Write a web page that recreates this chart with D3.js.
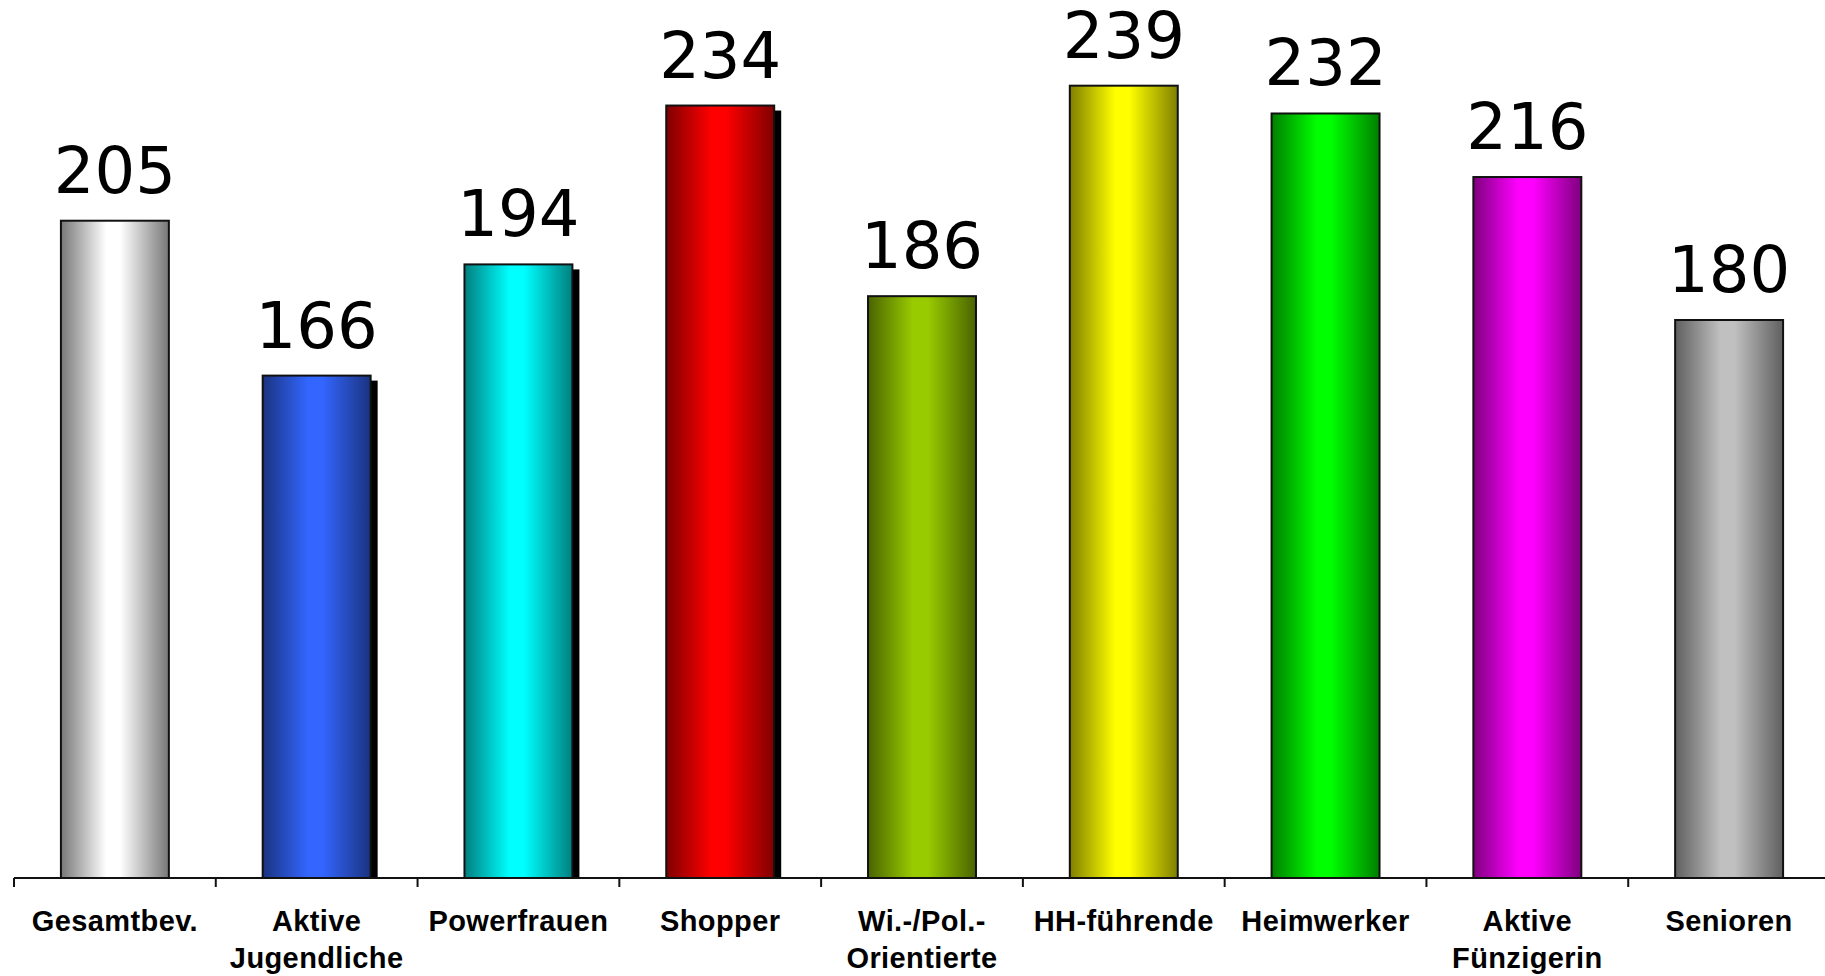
<!DOCTYPE html>
<html>
<head>
<meta charset="utf-8">
<script src="https://cdn.jsdelivr.net/npm/d3@7"></script>
<style>
  html, body { margin: 0; padding: 0; background: #fff; }
  svg { display: block; }
</style>
</head>
<body>
<svg id="chart" width="1825" height="976"></svg>
<script>
var categories = ["Gesamtbev.", "Aktive\nJugendliche", "Powerfrauen", "Shopper", "Wi.-/Pol.-\nOrientierte",
  "HH-führende", "Heimwerker", "Aktive\nFünzigerin", "Senioren"];
var values = [205, 166, 194, 234, 186, 239, 232, 216, 180];

// bar colours: bright centre, dark edge
var barLight = ["#ffffff", "#3366ff", "#00ffff", "#ff0000", "#99cc00", "#ffff00", "#00ff00", "#ff00ff", "#c0c0c0"];
var barDark = ["#777777", "#1a3380", "#007f7f", "#7f0000", "#4a6300", "#7f7f00", "#007f00", "#7f007f", "#5f5f5f"];
var withShadow = [false, true, true, true, false, false, false, false, false];

var svg = d3.select("#chart");
var baseY = 878;

var x = d3.scaleBand()
  .domain(categories)
  .range([14, 1830])
  .paddingInner(0.465)
  .paddingOuter(0.2325);

var y = d3.scaleLinear()
  .domain([40, 250])
  .range([876, 42]);

var defs = svg.append("defs");
categories.forEach(function (c, i) {
  var g = defs.append("linearGradient")
    .attr("id", "grad" + i)
    .attr("x1", "0%").attr("x2", "100%")
    .attr("y1", "0%").attr("y2", "0%");
  g.append("stop").attr("offset", "0%").attr("stop-color", barDark[i]);
  g.append("stop").attr("offset", "42%").attr("stop-color", barLight[i]);
  g.append("stop").attr("offset", "55%").attr("stop-color", barLight[i]);
  g.append("stop").attr("offset", "100%").attr("stop-color", barDark[i]);
});

var data = categories.map(function (c, i) { return {c: c, v: values[i], i: i}; });

// shadows
svg.append("g").selectAll("rect")
  .data(data.filter(function (d) { return withShadow[d.i]; }))
  .enter().append("rect")
  .attr("x", function (d) { return x(d.c) + 7; })
  .attr("y", function (d) { return y(d.v) + 5; })
  .attr("width", x.bandwidth())
  .attr("height", function (d) { return baseY - y(d.v) - 5; })
  .attr("fill", "#000");

// bars
svg.append("g").selectAll("rect")
  .data(data)
  .enter().append("rect")
  .attr("x", function (d) { return x(d.c); })
  .attr("y", function (d) { return y(d.v); })
  .attr("width", x.bandwidth())
  .attr("height", function (d) { return baseY - y(d.v); })
  .attr("fill", function (d) { return "url(#grad" + d.i + ")"; })
  .attr("stroke", "#111")
  .attr("stroke-width", 2);

// value labels
svg.append("g").selectAll("text")
  .data(data)
  .enter().append("text")
  .attr("x", function (d) { return x(d.c) + x.bandwidth() / 2; })
  .attr("y", function (d) { return y(d.v) - 28; })
  .attr("text-anchor", "middle")
  .attr("font-family", "DejaVu Sans, Verdana, sans-serif")
  .attr("font-size", 64)
  .attr("fill", "#000")
  .text(function (d) { return d.v; });

// axis line and ticks between categories
var pad = (x.step() - x.bandwidth()) / 2;
var bounds = categories.map(function (c) { return x(c) - pad; });
bounds.push(x(categories[categories.length - 1]) + x.bandwidth() + pad);

var axis = svg.append("g");
axis.append("line")
  .attr("x1", x.range()[0]).attr("x2", 1825)
  .attr("y1", baseY).attr("y2", baseY)
  .attr("stroke", "#111").attr("stroke-width", 2);
axis.selectAll("line.tick")
  .data(bounds)
  .enter().append("line")
  .attr("class", "tick")
  .attr("x1", function (d) { return d; }).attr("x2", function (d) { return d; })
  .attr("y1", baseY).attr("y2", baseY + 9)
  .attr("stroke", "#111").attr("stroke-width", 2);

// category labels
var labels = axis.selectAll("text")
  .data(categories)
  .enter().append("text")
  .attr("text-anchor", "middle")
  .attr("font-family", "Liberation Sans, Arial, sans-serif")
  .attr("font-weight", "bold")
  .attr("font-size", 29)
  .attr("letter-spacing", 0.4)
  .attr("fill", "#000");

labels.each(function (c) {
  var t = d3.select(this);
  c.split("\n").forEach(function (line, k) {
    t.append("tspan")
      .attr("x", x(c) + x.bandwidth() / 2)
      .attr("y", 931 + k * 37)
      .text(line);
  });
});
</script>
</body>
</html>
